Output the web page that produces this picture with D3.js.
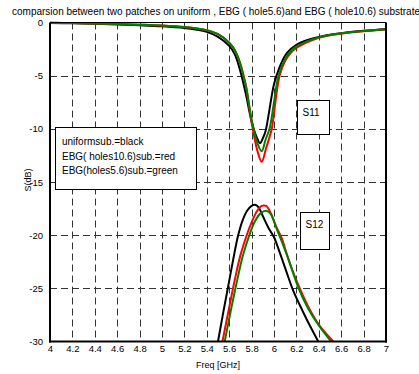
<!DOCTYPE html>
<html>
<head>
<meta charset="utf-8">
<script src="https://cdn.jsdelivr.net/npm/d3@7"></script>
<style>
  html, body { margin: 0; padding: 0; background: #fff; }
  svg { display: block; font-family: "Liberation Sans", Arial, sans-serif; }
</style>
</head>
<body>
<svg id="chart" width="419" height="374"></svg>
<script>
// Frequency ticks and dB ticks
const xTicks = [4, 4.2, 4.4, 4.6, 4.8, 5, 5.2, 5.4, 5.6, 5.8, 6, 6.2, 6.4, 6.6, 6.8, 7];
const yTicks = [0, -5, -10, -15, -20, -25, -30];

// S11 (dB) vs frequency (GHz)
const s11Uniform = [
  [4.0, -0.05], [4.2, -0.08], [4.4, -0.12], [4.6, -0.18], [4.8, -0.26], [5.0, -0.36],
  [5.2, -0.52], [5.3, -0.66], [5.4, -0.88], [5.5, -1.35], [5.6, -2.2], [5.65, -3.0],
  [5.7, -4.6], [5.75, -6.8], [5.8, -9.3], [5.85, -10.9], [5.875, -11.35], [5.9, -10.9],
  [5.925, -10.2], [5.95, -8.8], [6.0, -5.8], [6.05, -4.2], [6.1, -3.1], [6.15, -2.5],
  [6.2, -2.1], [6.3, -1.65], [6.4, -1.35], [6.5, -1.15], [6.6, -1.0], [6.7, -0.88],
  [6.8, -0.78], [6.9, -0.7], [7.0, -0.62]
];
const s11Holes106 = [
  [4.0, -0.02], [4.2, -0.05], [4.4, -0.09], [4.6, -0.14], [4.8, -0.2], [5.0, -0.28],
  [5.2, -0.42], [5.3, -0.55], [5.4, -0.72], [5.5, -1.1], [5.6, -1.9], [5.65, -2.6],
  [5.7, -3.9], [5.75, -6.0], [5.8, -9.4], [5.85, -12.0], [5.89, -13.1], [5.93, -11.8],
  [5.98, -10.0], [6.0, -8.5], [6.05, -5.0], [6.1, -3.6], [6.15, -2.85], [6.2, -2.4],
  [6.3, -1.85], [6.4, -1.45], [6.5, -1.2], [6.6, -1.05], [6.7, -0.92], [6.8, -0.82],
  [6.9, -0.74], [7.0, -0.65]
];
const s11Holes56 = [
  [4.0, -0.02], [4.2, -0.05], [4.4, -0.09], [4.6, -0.14], [4.8, -0.2], [5.0, -0.28],
  [5.2, -0.42], [5.3, -0.55], [5.4, -0.72], [5.5, -1.1], [5.6, -1.9], [5.65, -2.6],
  [5.7, -3.9], [5.725, -5.0], [5.75, -6.0], [5.8, -9.1], [5.85, -11.3], [5.89, -12.1],
  [5.925, -11.0], [5.96, -10.0], [6.0, -7.5], [6.04, -5.0], [6.1, -3.4], [6.15, -2.7],
  [6.2, -2.25], [6.3, -1.75], [6.4, -1.4], [6.5, -1.17], [6.6, -1.02], [6.7, -0.9],
  [6.8, -0.8], [6.9, -0.72], [7.0, -0.63]
];

// S12 (dB) vs frequency (GHz)
const s12Uniform = [
  [5.50, -30], [5.55, -27.1], [5.60, -24.3], [5.65, -21.5], [5.68, -20.0], [5.72, -18.6],
  [5.76, -17.7], [5.80, -17.25], [5.83, -17.15], [5.86, -17.35], [5.90, -18.2],
  [5.95, -19.3], [6.0, -20.2], [6.05, -21.6], [6.1, -23.1], [6.16, -24.9], [6.2, -25.9],
  [6.25, -27.0], [6.3, -28.1], [6.35, -29.1], [6.395, -30]
];
const s12Holes106 = [
  [5.54, -30], [5.60, -26.8], [5.65, -24.2], [5.70, -21.9], [5.75, -20.2], [5.80, -18.8],
  [5.85, -17.7], [5.89, -17.25], [5.93, -17.25], [5.97, -17.9], [6.02, -19.2],
  [6.07, -20.3], [6.10, -21.3], [6.15, -22.9], [6.23, -25.0], [6.30, -26.6],
  [6.40, -28.4], [6.53, -30]
];
const s12Holes56 = [
  [5.56, -30], [5.62, -26.8], [5.67, -24.3], [5.72, -22.0], [5.78, -20.0], [5.83, -18.7],
  [5.88, -17.95], [5.93, -17.7], [5.97, -18.0], [6.02, -19.3], [6.07, -20.6],
  [6.12, -22.0], [6.22, -25.0], [6.30, -26.8], [6.40, -28.5], [6.51, -30]
];

const legendLines = ["uniformsub.=black", "EBG( holes10.6)sub.=red", "EBG(holes5.6)sub.=green"];

const svg = d3.select("#chart");
const plotLeft = 50, plotRight = 386, plotTop = 22.5, plotBottom = 341.5;

const x = d3.scaleLinear().domain([4, 7]).range([plotLeft, plotRight]);
const y = d3.scaleLinear().domain([-30, 0]).range([plotBottom, plotTop]);

// Title
svg.append("text")
  .attr("x", 12).attr("y", 15)
  .attr("font-size", 10).attr("fill", "#000")
  .text("comparsion between two patches on uniform , EBG ( hole5.6)and EBG ( hole10.6) substrate");

// Dashed grid
const grid = svg.append("g").attr("stroke", "#333").attr("stroke-width", 1)
  .attr("stroke-dasharray", "7,4");
grid.selectAll("line.v").data(xTicks.slice(1, -1)).join("line")
  .attr("x1", d => Math.round(x(d)) + 0.5).attr("x2", d => Math.round(x(d)) + 0.5)
  .attr("y1", plotTop).attr("y2", plotBottom);
grid.selectAll("line.h").data(yTicks.slice(1, -1)).join("line")
  .attr("y1", d => Math.round(y(d)) + 0.5).attr("y2", d => Math.round(y(d)) + 0.5)
  .attr("x1", plotLeft).attr("x2", plotRight);

// Axes with labels
const xAxis = d3.axisBottom(x).tickValues(xTicks).tickSize(0).tickPadding(4)
  .tickFormat(d3.format("~g"));
const gx = svg.append("g").attr("transform", `translate(0,${plotBottom})`).call(xAxis);
gx.select(".domain").remove();
gx.selectAll("text").attr("font-size", 9.5).attr("font-family", "Liberation Sans, Arial, sans-serif");

const yAxis = d3.axisLeft(y).tickValues(yTicks).tickSize(0).tickPadding(7)
  .tickFormat(d3.format("~g"));
const gy = svg.append("g").attr("transform", `translate(${plotLeft},0)`).call(yAxis);
gy.select(".domain").remove();
gy.selectAll("text").attr("font-size", 9.5).attr("font-family", "Liberation Sans, Arial, sans-serif")
  .text(d => d === 0 ? "0" : String(d));

// Curves
svg.append("clipPath").attr("id", "plotclip")
  .append("rect").attr("x", plotLeft).attr("y", plotTop - 2)
  .attr("width", plotRight - plotLeft).attr("height", plotBottom - plotTop + 2);

const line = d3.line().x(d => x(d[0])).y(d => y(d[1])).curve(d3.curveCatmullRom.alpha(0.5));
const series = [
  { data: s11Uniform, color: "#000000" },
  { data: s12Uniform, color: "#000000" },
  { data: s11Holes106, color: "#ff0000" },
  { data: s12Holes106, color: "#ff0000" },
  { data: s11Holes56, color: "#008000" },
  { data: s12Holes56, color: "#008000" }
];
svg.append("g").attr("clip-path", "url(#plotclip)")
  .selectAll("path").data(series).join("path")
  .attr("d", d => line(d.data))
  .attr("fill", "none").attr("stroke", d => d.color).attr("stroke-width", 2)
  .attr("stroke-linejoin", "round");

// Plot frame
svg.append("line").attr("x1", plotLeft).attr("x2", plotRight).attr("y1", plotTop).attr("y2", plotTop)
  .attr("stroke", "#000").attr("stroke-width", 1);
svg.append("line").attr("x1", plotRight).attr("x2", plotRight).attr("y1", plotTop).attr("y2", plotBottom + 1)
  .attr("stroke", "#000").attr("stroke-width", 2);
svg.append("line").attr("x1", plotLeft).attr("x2", plotLeft).attr("y1", plotTop).attr("y2", plotBottom + 1)
  .attr("stroke", "#000").attr("stroke-width", 2);
svg.append("line").attr("x1", plotLeft - 1).attr("x2", plotRight + 1).attr("y1", plotBottom).attr("y2", plotBottom)
  .attr("stroke", "#000").attr("stroke-width", 2);

// Axis titles
svg.append("text").attr("x", 218).attr("y", 368).attr("text-anchor", "middle")
  .attr("font-size", 9).text("Freq [GHz]");
svg.append("text").attr("transform", "translate(31,180) rotate(-90)").attr("text-anchor", "middle")
  .attr("font-size", 9).text("S(dB)");

// Legend box
svg.append("rect").attr("x", 55.5).attr("y", 127.5).attr("width", 141).attr("height", 62)
  .attr("fill", "#fff").attr("stroke", "#000").attr("stroke-width", 1);
svg.append("g").selectAll("text").data(legendLines).join("text")
  .attr("x", 62).attr("y", (d, i) => 145 + i * 14.5)
  .attr("font-size", 10).text(d => d);

// Annotation boxes
const notes = [
  { label: "S11", x0: 297.5, y0: 100.5, w: 32, h: 34 },
  { label: "S12", x0: 300.5, y0: 212.5, w: 29, h: 37 }
];
const ng = svg.append("g").selectAll("g").data(notes).join("g");
ng.append("rect").attr("x", d => d.x0).attr("y", d => d.y0).attr("width", d => d.w).attr("height", d => d.h)
  .attr("fill", "#fff").attr("stroke", "#000").attr("stroke-width", 1);
ng.append("text").attr("x", d => d.x0 + 5).attr("y", d => d.y0 + 15)
  .attr("font-size", 10).text(d => d.label);
</script>
</body>
</html>
